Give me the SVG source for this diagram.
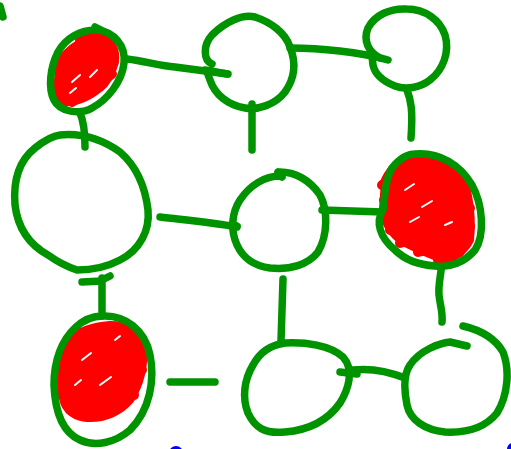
<svg xmlns="http://www.w3.org/2000/svg" width="511" height="449" viewBox="0 0 511 449">
  <style>
    .ink { fill: none; stroke: #009300; stroke-width: 7.5; stroke-linecap: round; stroke-linejoin: round; }
    .scrib { fill: #ff0000; stroke: #ff0000; stroke-width: 8; stroke-linejoin: round; }
    .scribline { fill: none; stroke: #ff0000; stroke-width: 10; stroke-linecap: round; stroke-linejoin: round; }
    .gap { fill: none; stroke: #ffffff; stroke-width: 2; stroke-linecap: round; }
    .dot { fill: #0000ff; }
  </style>
  <rect width="511" height="449" fill="#ffffff"/>

  <!-- connectors -->
  <g id="connectors">
    <path class="ink" d="M127,59 C 145,61 160,66 175,67 L 228,74"/>
    <path class="ink" d="M290,48 C 320,48 360,52 388,60"/>
    <path class="ink" d="M252,104 L 252,150"/>
    <path class="ink" d="M407,90 C 411,100 413,110 411,138"/>
    <path class="ink" d="M80,113 C 84,122 85,135 85,147"/>
    <path class="ink" d="M160,217 C 185,220 210,222 237,227"/>
    <path class="ink" d="M322,210 L 383,212"/>
    <path class="ink" d="M82,282 L 102,281 M102,278 L 102,316 M102,280 L 110,276"/>
    <path class="ink" d="M442,262 C 441,275 438,285 439,295 C 440,305 443,312 442,322"/>
    <path class="ink" d="M283,279 L 281,341"/>
    <path class="ink" d="M170,382 L 215,382"/>
    <path class="ink" d="M340,372 L 357,374 M353,370 C 370,368 390,372 405,378"/>
  </g>

  <!-- top row -->
  <g id="node-top-left">
    <path class="scrib" d="M60,62 C 68,48 85,38 100,37 C 110,38 117,50 115,62 C 112,72 108,82 100,88 C 90,96 78,103 65,102 C 58,100 57,90 58,80 Z"/>
    <path class="scribline" d="M58,68 L 98,40 M58,84 L 110,44 M60,99 L 114,58 M72,102 L 112,74 M80,40 L 104,36"/>
    <path class="gap" d="M72,82 L 80,75 M90,77 L 97,70 M70,93 L 76,88"/>
    <path class="ink" d="M98,30 C 113,32 126,45 124,63 C 122,82 107,100 92,108 C 80,115 60,112 54,100 C 48,88 50,68 58,52 C 66,38 80,30 96,30 M95,27 L 103,31"/>
  </g>
  <g id="node-top-mid">
    <path class="ink" d="M212,64 C 203,60 203,45 212,35 C 225,22 242,14 255,17 C 270,22 285,32 290,47 C 296,62 295,78 285,92 C 275,105 258,110 245,108 C 228,105 215,95 210,80 L 207,72 M205,70 L 227,74"/>
  </g>
  <g id="node-top-right">
    <path class="ink" d="M380,58 C 368,52 363,40 368,28 C 375,15 390,8 407,9 C 425,9 440,20 445,35 C 450,52 443,70 430,80 C 420,88 405,90 395,86 C 385,82 375,75 373,65 L 372,56"/>
  </g>

  <!-- middle row -->
  <g id="node-mid-left">
    <path class="ink" d="M60,135 C 80,133 100,138 120,152 C 135,165 145,185 148,210 C 150,230 140,250 120,260 C 105,268 90,270 77,270 C 65,266 55,260 48,255 C 30,245 18,230 15,205 C 13,180 20,160 35,148 C 45,140 52,136 60,135"/>
  </g>
  <g id="node-center">
    <path class="ink" d="M280,172 C 295,172 310,180 320,195 C 328,210 328,235 318,252 C 308,265 290,270 270,268 C 255,266 243,258 237,245 C 230,230 232,212 240,200 C 250,185 265,176 280,176 M278,172 L 282,177 M233,224 L 237,226"/>
  </g>
  <g id="node-mid-right">
    <path class="scrib" d="M385,180 C 392,165 405,155 418,155 C 432,156 445,160 450,168 C 458,175 465,182 467,190 C 470,205 472,225 470,240 C 465,250 455,258 445,260 C 430,255 415,248 403,242 C 393,235 385,225 383,210 Z"/>
    <path class="scribline" d="M382,185 L 420,158 M384,200 L 445,163 M385,214 L 464,184 M390,230 L 470,208 M400,243 L 470,226 M418,252 L 468,240 M438,260 L 460,252"/>
    <path class="gap" d="M405,190 L 414,184 M422,207 L 432,201 M410,222 L 419,217 M445,225 L 452,222"/>
    <path class="ink" d="M415,154 C 440,152 460,165 472,185 C 483,205 485,235 475,250 C 465,262 450,268 435,266 C 420,265 405,260 395,250 C 380,238 375,222 383,210 C 385,195 385,180 392,168 C 400,158 408,154 415,154"/>
  </g>

  <!-- bottom row -->
  <g id="node-bottom-left">
    <path class="scrib" d="M70,340 C 80,330 95,326 110,325 C 125,325 138,328 143,345 C 145,365 140,385 130,400 C 120,412 105,418 90,418 C 75,418 65,410 63,398 C 58,385 57,370 60,360 Z"/>
    <path class="scribline" d="M60,365 L 100,328 M60,380 L 130,326 M62,395 L 144,345 M70,410 L 142,370 M88,417 L 134,395"/>
    <path class="gap" d="M115,340 L 120,336 M82,360 L 91,353 M100,385 L 111,377 M75,385 L 81,380"/>
    <path class="ink" d="M103,316 C 125,315 145,330 150,355 C 155,380 150,410 130,430 C 115,443 95,447 80,440 C 62,432 55,410 54,385 C 54,360 62,340 75,328 C 85,318 95,316 103,316"/>
  </g>
  <g id="node-bottom-mid">
    <path class="ink" d="M285,343 C 305,342 330,345 343,357 C 355,370 348,390 340,403 C 328,420 310,430 285,432 C 265,434 255,428 248,413 C 242,398 244,380 253,365 C 260,352 270,345 285,343"/>
  </g>
  <g id="node-bottom-right">
    <path class="ink" d="M463,326 C 480,330 495,338 503,352 C 510,370 508,395 497,413 C 485,428 465,433 445,432 C 425,430 410,420 407,405 C 404,390 403,375 410,365 C 420,350 440,343 450,342 L 467,346"/>
  </g>

  <!-- stray marks at the edges -->
  <path class="ink" d="M0,6 L 3,17"/>
  <circle class="dot" cx="176" cy="453" r="7"/>
  <circle class="dot" cx="513" cy="449" r="6"/>
</svg>
